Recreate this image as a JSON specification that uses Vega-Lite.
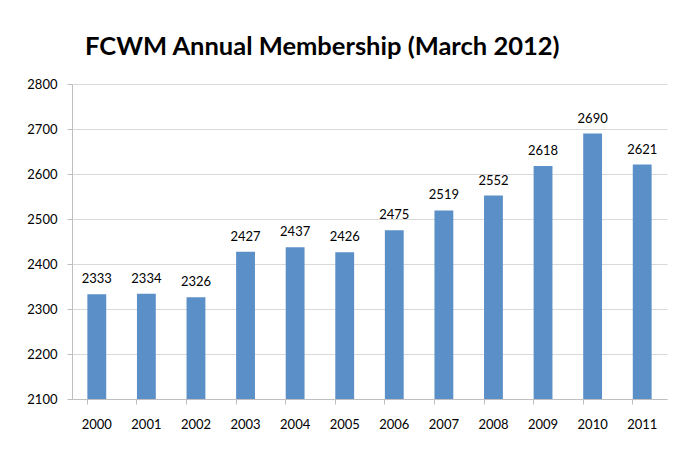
{
  "$schema": "https://vega.github.io/schema/vega-lite/v6.json",
  "width": 595,
  "height": 315,
  "autosize": "none",
  "padding": {"left": 72, "top": 84, "right": 13, "bottom": 53},
  "background": "white",
  "title": {
    "text": "FCWM Annual Membership (March 2012)",
    "anchor": "start",
    "frame": "group",
    "dx": 13,
    "offset": 18,
    "font": "Lato",
    "fontSize": 25.5,
    "fontWeight": "bold",
    "color": "#000000"
  },
  "data": {
    "values": [
      {"year": "2000", "members": 2333},
      {"year": "2001", "members": 2334},
      {"year": "2002", "members": 2326},
      {"year": "2003", "members": 2427},
      {"year": "2004", "members": 2437},
      {"year": "2005", "members": 2426},
      {"year": "2006", "members": 2475},
      {"year": "2007", "members": 2519},
      {"year": "2008", "members": 2552},
      {"year": "2009", "members": 2618},
      {"year": "2010", "members": 2690},
      {"year": "2011", "members": 2621}
    ]
  },
  "encoding": {
    "x": {
      "field": "year",
      "type": "nominal",
      "sort": null,
      "scale": {"paddingInner": 0.62, "paddingOuter": 0.31},
      "axis": {
        "title": null,
        "labelAngle": 0,
        "labelFont": "Lato",
        "labelFontSize": 13,
        "labelColor": "#000000",
        "labelPadding": 14,
        "bandPosition": 0,
        "tickSize": 5,
        "tickColor": "#BFBFBF",
        "domainColor": "#BFBFBF",
        "grid": false
      }
    },
    "y": {
      "field": "members",
      "type": "quantitative",
      "scale": {"domain": [2100, 2800], "zero": false, "nice": false},
      "axis": {
        "title": null,
        "values": [2100, 2200, 2300, 2400, 2500, 2600, 2700, 2800],
        "labelFont": "Lato",
        "labelFontSize": 13,
        "labelColor": "#000000",
        "labelPadding": 10,
        "tickSize": 5,
        "tickColor": "#BFBFBF",
        "domainColor": "#BFBFBF",
        "gridColor": "#D9D9D9",
        "format": "d"
      }
    }
  },
  "layer": [
    {"mark": {"type": "bar", "color": "#5B8FC8", "clip": true}},
    {
      "mark": {"type": "text", "baseline": "bottom", "dy": -8, "font": "Lato", "fontSize": 13, "color": "#000000"},
      "encoding": {"text": {"field": "members", "type": "quantitative", "format": "d"}}
    }
  ],
  "config": {"view": {"stroke": null}}
}
